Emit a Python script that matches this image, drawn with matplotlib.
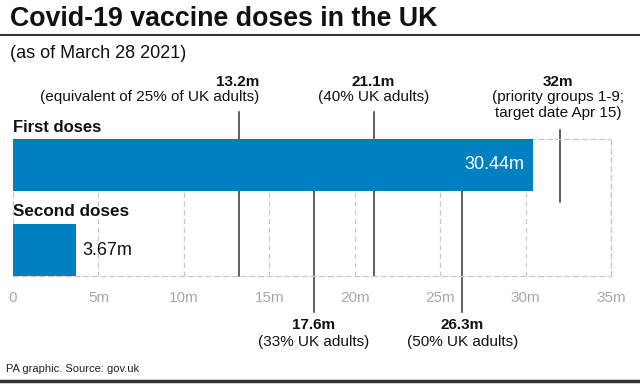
import matplotlib.pyplot as plt
from matplotlib.transforms import blended_transform_factory

plt.rcParams['font.family'] = ['Liberation Sans', 'DejaVu Sans']

categories = ['First doses', 'Second doses']
doses = [30.44, 3.67]
dose_labels = ['30.44m', '3.67m']

ref_values = [13.2, 21.1, 32, 17.6, 26.3]
ref_labels = ['13.2m', '21.1m', '32m', '17.6m', '26.3m']
ref_notes = ['(equivalent of 25% of UK adults)', '(40% UK adults)',
             '(priority groups 1-9;\ntarget date Apr 15)',
             '(33% UK adults)', '(50% UK adults)']

ticks = [0, 5, 10, 15, 20, 25, 30, 35]
tick_labels = ['0', '5m', '10m', '15m', '20m', '25m', '30m', '35m']

W, H = 640, 385
BLUE = '#0080c0'
DARK = '#333333'
GRID = '#c8c8c8'


def fy(px):
    # pixel row from the top -> figure fraction
    return 1 - px / H


fig = plt.figure(figsize=(W / 100, H / 100), dpi=100)
ax = fig.add_axes([13 / W, fy(276), 598 / W, 137 / H])

ypos = [1, 0]
ax.barh(ypos, doses, height=0.608, color=BLUE, zorder=3)
ax.set_xlim(0, 35)
ax.set_ylim(-0.304, 1.304)

for t in ticks[1:]:
    ax.axvline(t, color=GRID, lw=0.9, ls=(0, (4, 3)), zorder=1)
for s in ax.spines.values():
    s.set_color(GRID)
    s.set_linewidth(0.9)
    s.set_linestyle((0, (4, 3)))
ax.set_xticks([])
ax.set_yticks([])

tr = blended_transform_factory(ax.transData, fig.transFigure)

# reference lines: (top px, bottom px)
spans = [(112, 276), (112, 276), (130, 202), (150, 312), (150, 312)]
for v, (top, bot) in zip(ref_values, spans):
    ax.plot([v, v], [fy(top), fy(bot)], transform=tr, color=DARK, lw=1.1,
            zorder=2, clip_on=False)

# labels above the bars
above = [(ref_values[0] + 1.2, 'right'), (ref_values[1], 'center'), (ref_values[2] - 0.1, 'center')]
for (x, ha), lab, note in zip(above, ref_labels[:3], ref_notes[:3]):
    ax.text(x, fy(82), lab, transform=tr, ha=ha, va='center', fontsize=11,
            fontweight='bold', color='#111111')
    ax.text(x, fy(90), note, transform=tr, ha=ha, va='top', fontsize=11,
            color='#111111', linespacing=1.15)

# labels below the axis
for v, lab, note in zip(ref_values[3:], ref_labels[3:], ref_notes[3:]):
    ax.text(v, fy(325), lab, transform=tr, ha='center', va='center', fontsize=11,
            fontweight='bold', color='#111111')
    ax.text(v, fy(342), note, transform=tr, ha='center', va='center', fontsize=11,
            color='#111111')

# tick labels
for t, lab in zip(ticks, tick_labels):
    ax.text(t, fy(298), lab, transform=tr, ha='center', va='center',
            fontsize=11, color='#a8a8a8')

# category names and values
ax.text(0, fy(127), categories[0], transform=tr, ha='left', va='center',
        fontsize=12, fontweight='bold', color='#111111')
ax.text(0, fy(212), categories[1], transform=tr, ha='left', va='center',
        fontsize=12.3, fontweight='bold', color='#111111')
ax.text(doses[0] - 0.5, 1, dose_labels[0], ha='right', va='center',
        fontsize=13, color='white', zorder=4)
ax.text(doses[1] + 0.4, 0, dose_labels[1], ha='left', va='center',
        fontsize=13, color='#111111', zorder=4)

# title block
fig.text(10 / W, fy(19), 'Covid-19 vaccine doses in the UK', ha='left', va='center',
         fontsize=19.3, fontweight='bold', color='#111111')
fig.add_artist(plt.Line2D([0, 1], [fy(35), fy(35)], color=DARK, lw=1.5))
fig.text(10 / W, fy(53), '(as of March 28 2021)', ha='left', va='center',
         fontsize=13, color='#111111')

# footer
fig.text(6 / W, fy(369), 'PA graphic. Source: gov.uk', ha='left', va='center',
         fontsize=8, color='#222222')
fig.add_artist(plt.Line2D([0, 1], [fy(381), fy(381)], color=DARK, lw=2.5))

fig.savefig('out.png', dpi=100)
